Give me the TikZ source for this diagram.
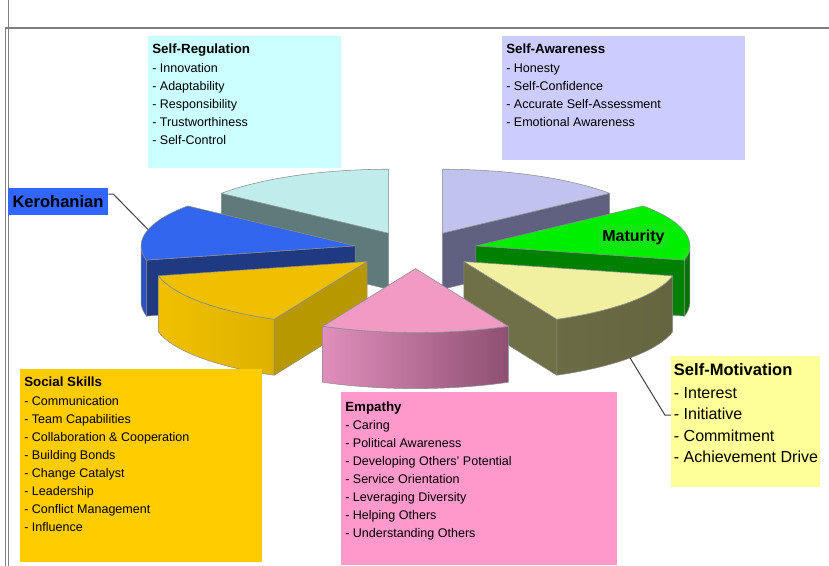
\documentclass[tikz,border=0pt]{standalone}
\usepackage{fontspec}
\setmainfont{Liberation Sans}
\definecolor{regtop}{HTML}{C0ECEC}
\definecolor{regside}{HTML}{5F7A7A}
\definecolor{regfill}{HTML}{CCFFFF}
\definecolor{awaretop}{HTML}{C2C2EE}
\definecolor{awareside}{HTML}{606080}
\definecolor{awarefill}{HTML}{CCCCFF}
\definecolor{kerotop}{HTML}{3366EE}
\definecolor{keroside}{HTML}{1F3A80}
\definecolor{kerofill}{HTML}{3366FF}
\definecolor{socialtop}{HTML}{F0C000}
\definecolor{socialside}{HTML}{B89800}
\definecolor{socialfill}{HTML}{FFCC00}
\definecolor{empathytop}{HTML}{F09AC4}
\definecolor{empathyleft}{HTML}{E08EBC}
\definecolor{empathyright}{HTML}{8E5072}
\definecolor{empathyfill}{HTML}{FF99CC}
\definecolor{motivtop}{HTML}{F0F0A0}
\definecolor{motivside}{HTML}{707048}
\definecolor{motivmid}{HTML}{8E8E60}
\definecolor{motivfill}{HTML}{FFFF99}
\definecolor{maturtop}{HTML}{00EE00}
\definecolor{maturside}{HTML}{008000}
\definecolor{maturfill}{HTML}{11E611}
\begin{document}
\begin{tikzpicture}[
    x=0.75pt, y=0.75pt,
    slice/.style={draw=black!45, line width=0.4pt, line join=round},
    rim/.style={x radius=214, y radius=64},
    panel/.style={fill=#1, anchor=north west, inner xsep=3pt, inner ysep=5.75pt,
      font=\fontsize{9.4}{13.5}\selectfont},
    tag/.style={fill=#1, font=\bfseries\fontsize{12}{14}\selectfont},
    callout/.style={draw=black!75, line width=0.75pt},
    framerule/.style={draw=black!50, line width=#1}
  ]
  \useasboundingbox (0,0) rectangle (829,566);

  % frame
  \draw[framerule=1.5pt] (5,538) -- (829,538);
  \draw[framerule=0.75pt] (8,0) -- (8,566);
  \draw[framerule=0.75pt] (5,0) -- (5,538);

  % pie centre, exploded apexes (top and bottom)
  \coordinate (pc) at (415.5,316);
  \foreach \name/\ang in {aware/64.29, reg/115.71, kero/167.14, social/218.57,
      empathy/270, motiv/321.43, matur/12.86} {
    \coordinate (p-\name) at ([shift={(\ang:62 and 18.6)}]pc);
    \coordinate (b-\name) at ([shift={(0,-56)}]p-\name);
  }

  % self-regulation
  \path[fill=regside, slice] (p-reg) -- ++(141.43:214 and 64) -- ++(0,-56) -- (b-reg) -- cycle;
  \path[fill=regtop, slice] (p-reg) -- ++(90:214 and 64)
    arc[start angle=90, end angle=141.43, rim] -- cycle;

  % self-awareness
  \path[fill=awareside, slice] (p-aware) -- ++(38.57:214 and 64) -- ++(0,-56) -- (b-aware) -- cycle;
  \path[fill=awaretop, slice] (p-aware) -- ++(38.57:214 and 64)
    arc[start angle=38.57, end angle=90, rim] -- cycle;

  % kerohanian
  \shadedraw[left color=kerotop!80!black, right color=kerotop!92!black, slice]
    (p-kero) ++(180:214 and 64) arc[start angle=180, end angle=192.86, rim]
    -- ++(0,-56) arc[start angle=192.86, end angle=180, rim] -- cycle;
  \path[fill=keroside, slice] (p-kero) -- ++(192.86:214 and 64) -- ++(0,-56) -- (b-kero) -- cycle;
  \path[fill=kerotop, slice] (p-kero) -- ++(141.43:214 and 64)
    arc[start angle=141.43, end angle=192.86, rim] -- cycle;

  % maturity
  \path[fill=maturside!90!black, slice]
    (p-matur) ++(347.14:214 and 64) arc[start angle=347.14, end angle=360, rim]
    -- ++(0,-56) arc[start angle=360, end angle=347.14, rim] -- cycle;
  \path[fill=maturside, slice] (p-matur) -- ++(347.14:214 and 64) -- ++(0,-56) -- (b-matur) -- cycle;
  \path[fill=maturtop, slice] (p-matur) -- ++(347.14:214 and 64)
    arc[start angle=347.14, end angle=398.57, rim] -- cycle;

  % social skills
  \shadedraw[left color=socialtop, right color=socialtop!86!black, slice]
    (p-social) ++(192.86:214 and 64) arc[start angle=192.86, end angle=244.29, rim]
    -- ++(0,-56) arc[start angle=244.29, end angle=192.86, rim] -- cycle;
  \path[fill=socialside, slice] (p-social) -- ++(244.29:214 and 64) -- ++(0,-56) -- (b-social) -- cycle;
  \path[fill=socialtop, slice] (p-social) -- ++(192.86:214 and 64)
    arc[start angle=192.86, end angle=244.29, rim] -- cycle;

  % self-motivation
  \shadedraw[left color=motivside, middle color=motivmid, right color=motivside!90!black, slice]
    (p-motiv) ++(295.71:214 and 64) arc[start angle=295.71, end angle=347.14, rim]
    -- ++(0,-56) arc[start angle=347.14, end angle=295.71, rim] -- cycle;
  \path[fill=motivside, slice] (p-motiv) -- ++(295.71:214 and 64) -- ++(0,-56) -- (b-motiv) -- cycle;
  \path[fill=motivtop, slice] (p-motiv) -- ++(295.71:214 and 64)
    arc[start angle=295.71, end angle=347.14, rim] -- cycle;

  % empathy
  \shadedraw[left color=empathyleft, right color=empathyright, slice]
    (p-empathy) ++(244.29:214 and 64) arc[start angle=244.29, end angle=295.71, rim]
    -- ++(0,-56) arc[start angle=295.71, end angle=244.29, rim] -- cycle;
  \path[fill=empathytop, slice] (p-empathy) -- ++(244.29:214 and 64)
    arc[start angle=244.29, end angle=295.71, rim] -- cycle;

  % labels on and beside the pie
  \node[tag=maturfill] (matur) at (633.5,329) {Maturity};
  \node[tag=kerofill, font=\bfseries\fontsize{12.4}{14}\selectfont,
    minimum width=75pt, minimum height=20.25pt, inner sep=0pt]
    (kero) at (58,364.5) {Kerohanian};

  % lists
  \node[panel=regfill] (reg) at (148,530) {\parbox[t][87.5pt][t]{138.75pt}{%
    {\bfseries\fontsize{10}{13.5}\selectfont Self-Regulation}\\[0.75pt]
    - Innovation\\- Adaptability\\- Responsibility\\- Trustworthiness\\- Self-Control}};
  \node[panel=awarefill] (aware) at (502,530) {\parbox[t][81.5pt][t]{176.25pt}{%
    {\bfseries\fontsize{10}{13.5}\selectfont Self-Awareness}\\[0.75pt]
    - Honesty\\- Self-Confidence\\- Accurate Self-Assessment\\- Emotional Awareness}};
  \node[panel=socialfill] (social) at (20,197) {\parbox[t][133.25pt][t]{175.5pt}{%
    {\bfseries\fontsize{10}{13.5}\selectfont Social Skills}\\[0.75pt]
    - Communication\\- Team Capabilities\\- Collaboration \& Cooperation\\- Building Bonds\\
    - Change Catalyst\\- Leadership\\- Conflict Management\\- Influence}};
  \node[panel=empathyfill, inner ysep=7pt] (empathy) at (341,174) {\parbox[t][115.75pt][t]{201pt}{%
    {\bfseries\fontsize{10}{13.5}\selectfont Empathy}\\
    - Caring\\- Political Awareness\\- Developing Others' Potential\\- Service Orientation\\
    - Leveraging Diversity\\- Helping Others\\- Understanding Others}};
  \node[panel=motivfill, inner xsep=2pt, font=\fontsize{12}{16}\selectfont] (motiv) at (671,210)
    {\parbox[t][86.75pt][t]{107.75pt}{%
    {\bfseries\fontsize{12.4}{16}\selectfont Self-Motivation}\\[1pt]
    - Interest\\- Initiative\\- Commitment\\\mbox{- Achievement Drive}}};

  % callouts
  \coordinate (kero-tip) at ([shift={(165.3:214 and 64)}]p-kero);
  \coordinate (motiv-tip) at ([shift={(320.9:214 and 64)}]b-motiv);
  \draw[callout] ([yshift=5.6pt]kero.east) -- ++(5,0) -- (kero-tip);
  \draw[callout] ([yshift=4.9pt]motiv.west) -- ++(-6,0) -- (motiv-tip);
\end{tikzpicture}
\end{document}
